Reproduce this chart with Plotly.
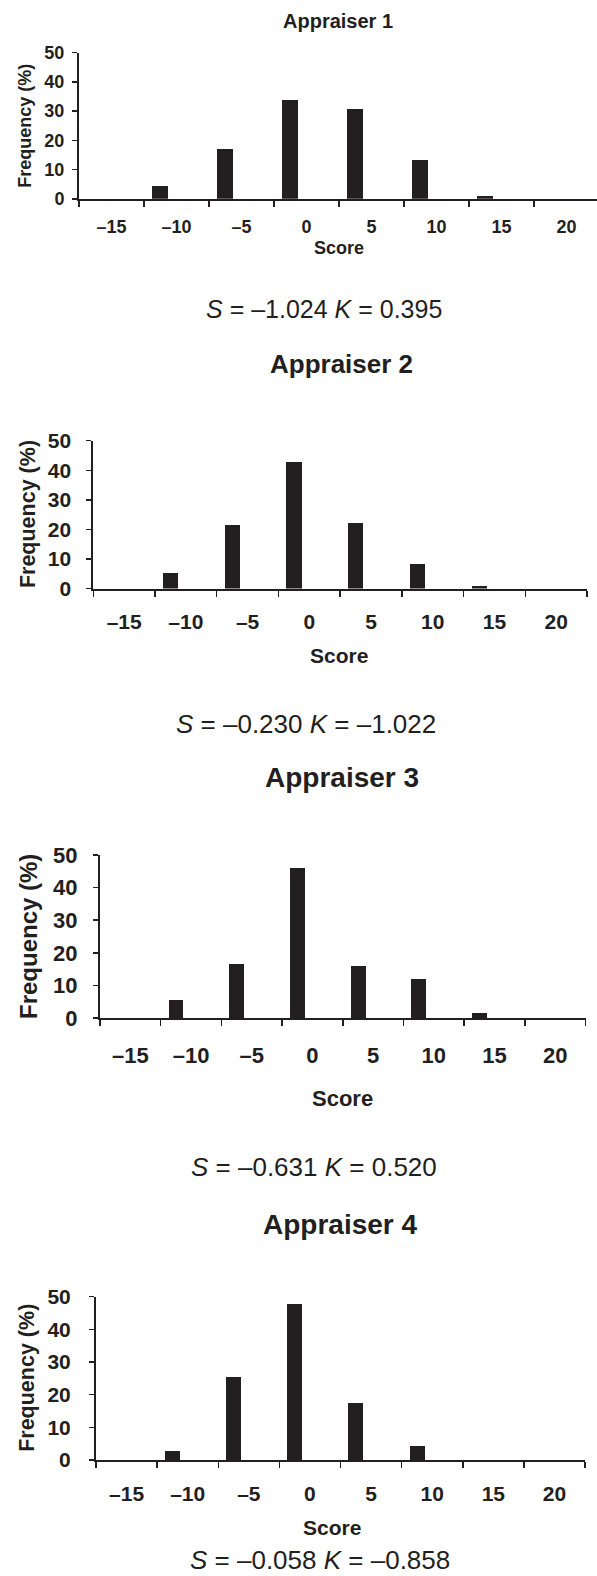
import plotly.graph_objects as go

# ---- data ----
categories = ["–15", "–10", "–5", "0", "5", "10", "15", "20"]
appraiser1 = [0, 4.4, 17.1, 33.7, 30.6, 13.3, 1.0, 0]
appraiser2 = [0, 5.3, 21.6, 42.9, 22.3, 8.4, 1.0, 0]
appraiser3 = [0, 5.4, 16.7, 46.1, 16.1, 12.1, 1.4, 0]
appraiser4 = [0, 2.9, 25.5, 47.7, 17.6, 4.3, 0, 0]
titles = ["Appraiser 1", "Appraiser 2", "Appraiser 3", "Appraiser 4"]
stats = ["<i>S</i> = –1.024 <i>K</i> = 0.395",
         "<i>S</i> = –0.230 <i>K</i> = –1.022",
         "<i>S</i> = –0.631 <i>K</i> = 0.520",
         "<i>S</i> = –0.058 <i>K</i> = –0.858"]
y_ticks = [0, 10, 20, 30, 40, 50]

W, H = 597, 1576
INK = "#231f20"
FONT = "Liberation Sans, Arial, Helvetica, sans-serif"

# layout geometry per panel (pixels)
panels = [
    dict(x0=79, x1=597, xend=7.47, ytop=52.7, ybot=198.8, fs=18, tfs=20, sfs=25, yfs=18,
         title_y=21, title_x=338, score_y=248, score_x=339, ylab_x=25, stats_y=309, stats_x=324,
         ystand=4, xstand=11),
    dict(x0=93.3, x1=587, xend=7.5, ytop=440.7, ybot=588.5, fs=21, tfs=26, sfs=26, yfs=21.5,
         title_y=364, title_x=341, score_y=655, score_x=339, ylab_x=27.5, stats_y=724, stats_x=306,
         ystand=11, xstand=13),
    dict(x0=100, x1=585.5, xend=7.5, ytop=855, ybot=1018, fs=22, tfs=28, sfs=26, yfs=24,
         title_y=777, title_x=342, score_y=1098, score_x=342, ylab_x=28.5, stats_y=1167, stats_x=314,
         ystand=11, xstand=17),
    dict(x0=96, x1=585, xend=7.5, ytop=1296.7, ybot=1460, fs=21, tfs=28, sfs=26, yfs=21.5,
         title_y=1224, title_x=340, score_y=1527, score_x=332, ylab_x=27.5, stats_y=1560, stats_x=320,
         ystand=14, xstand=14),
]
series = [appraiser1, appraiser2, appraiser3, appraiser4]

fig = go.Figure()
annotations = []
for i, (p, vals) in enumerate(zip(panels, series)):
    n = i + 1
    xa = "x" if n == 1 else f"x{n}"
    ya = "y" if n == 1 else f"y{n}"
    fig.add_trace(go.Bar(x=categories, y=vals, xaxis=xa, yaxis=ya,
                         marker=dict(color=INK, line=dict(width=0)),
                         width=0.245, offset=-0.37, showlegend=False))
    xkey = "xaxis" if n == 1 else f"xaxis{n}"
    ykey = "yaxis" if n == 1 else f"yaxis{n}"
    fig.update_layout(**{
        xkey: dict(domain=[p["x0"] / W, p["x1"] / W], anchor=ya, type="category",
                   range=[-0.5, p["xend"]], showline=True, linewidth=2, linecolor=INK,
                   ticks="outside", tickson="boundaries", ticklen=6, tickwidth=1.5,
                   tickcolor=INK, showgrid=False, zeroline=False, automargin=False,
                   tickfont=dict(family=FONT, size=p["fs"], color=INK, weight="bold"),
                   ticklabelstandoff=p["xstand"], fixedrange=True),
        ykey: dict(domain=[1 - p["ybot"] / H, 1 - p["ytop"] / H], anchor=xa,
                   range=[0, 50], tickvals=y_ticks, showline=True, linewidth=2,
                   linecolor=INK, ticks="outside", ticklen=5, tickwidth=1.5,
                   tickcolor=INK, showgrid=False, zeroline=False, automargin=False,
                   tickfont=dict(family=FONT, size=p["fs"], color=INK, weight="bold"),
                   ticklabelstandoff=p["ystand"], fixedrange=True),
    })
    annotations.append(dict(text=f"<b>{titles[i]}</b>", x=p["title_x"] / W, y=1 - p["title_y"] / H,
                            xref="paper", yref="paper", showarrow=False,
                            xanchor="center", yanchor="middle",
                            font=dict(family=FONT, size=p["tfs"], color=INK)))
    annotations.append(dict(text="<b>Score</b>", x=p["score_x"] / W, y=1 - p["score_y"] / H,
                            xref="paper", yref="paper", showarrow=False,
                            xanchor="center", yanchor="middle",
                            font=dict(family=FONT, size=p["fs"], color=INK)))
    annotations.append(dict(text="<b>Frequency (%)</b>", x=p["ylab_x"] / W,
                            y=1 - (p["ytop"] + p["ybot"]) / 2 / H,
                            xref="paper", yref="paper", showarrow=False, textangle=-90,
                            xanchor="center", yanchor="middle",
                            font=dict(family=FONT, size=p["yfs"], color=INK)))
    annotations.append(dict(text=stats[i], x=p["stats_x"] / W, y=1 - p["stats_y"] / H,
                            xref="paper", yref="paper", showarrow=False,
                            xanchor="center", yanchor="middle",
                            font=dict(family=FONT, size=p["sfs"], color=INK)))

fig.update_layout(width=W, height=H, margin=dict(l=0, r=0, t=0, b=0, autoexpand=False),
                  paper_bgcolor="white", plot_bgcolor="white", hovermode=False,
                  annotations=annotations, bargap=0, showlegend=False)
fig.write_html("out.html",
               config={"displayModeBar": False, "staticPlot": True},
               post_script="document.body.style.margin='0';"
                           "document.documentElement.style.overflow='hidden';"
                           "document.body.style.overflow='hidden';")
